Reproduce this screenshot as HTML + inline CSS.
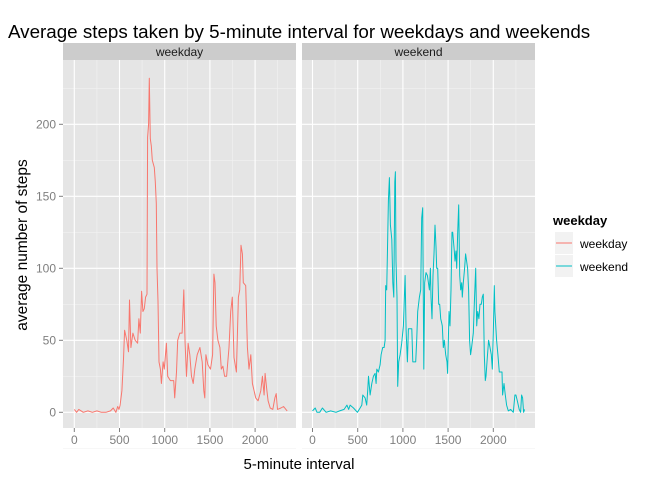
<!DOCTYPE html>
<html><head><meta charset="utf-8"><style>
body{margin:0;background:#fff;}
svg text{font-family:"Liberation Sans",Arial,sans-serif;}
</style></head><body>
<svg id="chart" width="672" height="480" xmlns="http://www.w3.org/2000/svg">
<text x="8" y="38" font-size="18.8" fill="#000">Average steps taken by 5-minute interval for weekdays and weekends</text>
<text x="299" y="469" font-size="15" text-anchor="middle" fill="#000">5-minute interval</text>
<text transform="translate(27,245) rotate(-90)" font-size="15.5" text-anchor="middle" fill="#000">average number of steps</text>
<g>
<text x="553" y="225" font-size="13" font-weight="bold">weekday</text>
<rect x="555" y="232" width="18" height="22" fill="#f2f2f2"/>
<line x1="556" y1="243" x2="572" y2="243" stroke="#F8766D" stroke-width="1"/>
<text x="580" y="248" font-size="12">weekday</text>
<rect x="555" y="255" width="18" height="22" fill="#f2f2f2"/>
<line x1="556" y1="266" x2="572" y2="266" stroke="#00BFC4" stroke-width="1"/>
<text x="580" y="271" font-size="12">weekend</text>
</g>
<g id="plots"></g>
</svg>
<script>
const weekdayX=[0,25,50,100,150,200,250,300,350,400,430,460,480,495,507,526,544,556,581,600,611,626,648,674,700,715,730,744,759,774,789,804,811,822,830,841,852,863,885,896,907,915,926,937,952,963,982,996,1019,1033,1063,1100,1111,1130,1144,1167,1193,1211,1226,1241,1259,1278,1296,1315,1333,1359,1389,1415,1433,1444,1456,1478,1507,1530,1544,1556,1570,1589,1611,1626,1644,1663,1685,1711,1730,1748,1767,1793,1815,1830,1844,1859,1870,1896,1915,1933,1952,1970,1989,2007,2033,2063,2081,2100,2111,2130,2144,2167,2196,2219,2233,2248,2285,2315,2341,2355];
const weekdayY=[2,0,2,0,1,0,1,0,0,1,3,0,4,2,5,15,37,57,50,42,78,45,55,50,48,65,55,84,70,72,80,82,191,200,232,190,185,175,170,160,145,100,77,35,30,20,35,30,48,25,22,22,10,28,50,55,55,85,48,25,48,40,25,20,30,40,45,35,15,10,40,33,30,40,96,90,60,50,45,30,32,25,25,45,70,80,38,28,80,85,116,110,90,88,45,30,40,20,15,10,8,15,25,12,27,15,8,3,2,10,13,2,3,4,2,1];
const weekendX=[0,30,50,80,110,150,200,260,300,350,380,400,416,453,497,527,545,556,582,600,611,619,637,656,674,692,703,711,729,748,759,777,792,803,810,821,829,840,851,862,877,888,899,910,917,924,935,943,954,969,987,1005,1024,1035,1050,1061,1098,1109,1123,1142,1153,1164,1182,1197,1208,1219,1231,1241,1256,1271,1293,1304,1311,1322,1333,1344,1355,1366,1374,1385,1396,1407,1418,1429,1436,1447,1458,1473,1488,1495,1510,1521,1532,1543,1551,1558,1569,1576,1587,1595,1606,1617,1628,1639,1650,1657,1668,1683,1694,1705,1716,1727,1738,1749,1760,1779,1790,1805,1816,1827,1841,1853,1867,1878,1889,1900,1911,1919,1934,1948,1963,1978,1989,2000,2011,2018,2037,2051,2066,2081,2096,2103,2118,2133,2147,2166,2191,2221,2239,2250,2265,2287,2302,2313,2324,2335,2346];
const weekendY=[1,3,0,0,3,0,1,0,1,2,5,2,5,3,0,3,5,12,10,5,15,25,12,20,25,27,20,30,28,33,40,45,45,50,88,85,110,147,163,130,120,90,80,160,167,105,80,18,35,40,48,60,95,57,35,58,58,35,35,35,50,70,80,85,135,142,30,90,97,95,85,100,80,65,95,110,130,115,100,100,75,75,65,62,60,45,50,40,35,27,70,60,85,125,125,120,112,105,112,100,125,144,95,85,90,80,90,100,110,105,100,85,50,40,45,55,75,100,60,70,65,75,75,80,82,40,22,25,38,50,45,40,30,55,88,70,50,40,28,28,28,12,20,12,5,1,2,0,12,12,8,2,0,12,10,0,2];
const yTicks=[0,50,100,150,200];
const xTicks=[0,500,1000,1500,2000];

const NS="http://www.w3.org/2000/svg";
const root=document.getElementById('plots');
function mk(tag,attrs,parent){const e=document.createElementNS(NS,tag);for(const k in attrs)e.setAttribute(k,attrs[k]);parent.appendChild(e);return e;}
const pTop=60,pBottom=428,y0=412.3,ppu=1.44;
function yS(v){return y0-v*ppu;}
const panels=[
 {name:'weekday',left:63,right:296,x0:74.3,xs:weekdayX,ys:weekdayY,color:'#F8766D'},
 {name:'weekend',left:302,right:535,x0:312.5,xs:weekendX,ys:weekendY,color:'#00BFC4'}
];
panels.forEach((p,pi)=>{
  const xS=v=>p.x0+v*45.2/500;
  const g=mk('g',{},root);
  
  
  const bg=mk('rect',{x:p.left,y:pTop,width:p.right-p.left,height:pBottom-pTop,fill:'#E5E5E5'},g);
  
  
  const strip=mk('rect',{x:p.left,y:43,width:p.right-p.left,height:17,fill:'#CCCCCC'},g);
  
  
  const st=mk('text',{x:(p.left+p.right)/2,y:56,'font-size':12,'text-anchor':'middle',fill:'#1a1a1a'},g);
  st.textContent=p.name;
  
  
  for(let i=0;i<yTicks.length;i++){const v=yTicks[i]+25;if(yS(v)>pTop)mk('line',{x1:p.left,x2:p.right,y1:yS(v),y2:yS(v),stroke:'#F2F2F2','stroke-width':0.6},g);}
  mk('line',{x1:p.left,x2:p.right,y1:yS(-25),y2:yS(-25),stroke:'#F2F2F2','stroke-width':0.6},g);
  for(let i=0;i<xTicks.length;i++){const v=xTicks[i]+250;if(xS(v)<p.right)mk('line',{x1:xS(v),x2:xS(v),y1:pTop,y2:pBottom,stroke:'#F2F2F2','stroke-width':0.6},g);}
  yTicks.forEach(v=>{mk('line',{x1:p.left,x2:p.right,y1:yS(v),y2:yS(v),stroke:'#fff','stroke-width':1.1},g);});
  xTicks.forEach(v=>{
    mk('line',{x1:xS(v),x2:xS(v),y1:pTop,y2:pBottom,stroke:'#fff','stroke-width':1.1},g);
    mk('line',{x1:xS(v),x2:xS(v),y1:pBottom,y2:pBottom+4,stroke:'#7f7f7f','stroke-width':1},g);
    const t=mk('text',{x:xS(v),y:pBottom+16,'font-size':12,'text-anchor':'middle',fill:'#7f7f7f'},g);
    t.textContent=v;
    
    
  });
  if(pi===0){
    yTicks.forEach(v=>{
      mk('line',{x1:p.left-4,x2:p.left,y1:yS(v),y2:yS(v),stroke:'#7f7f7f','stroke-width':1},g);
      const t=mk('text',{x:p.left-7,y:yS(v)+4,'font-size':12,'text-anchor':'end',fill:'#7f7f7f'},g);
      t.textContent=v;
      
      
    });
  }
  const n=Math.min(p.xs.length,p.ys.length);
  const pts=[];
  for(let i=0;i<n;i++)pts.push(xS(p.xs[i]).toFixed(1)+','+yS(p.ys[i]).toFixed(1));
  const line=mk('polyline',{points:pts.join(' '),fill:'none',stroke:p.color,'stroke-width':1,'stroke-linejoin':'round'},g);
  
  
});
</script>
</body></html>
